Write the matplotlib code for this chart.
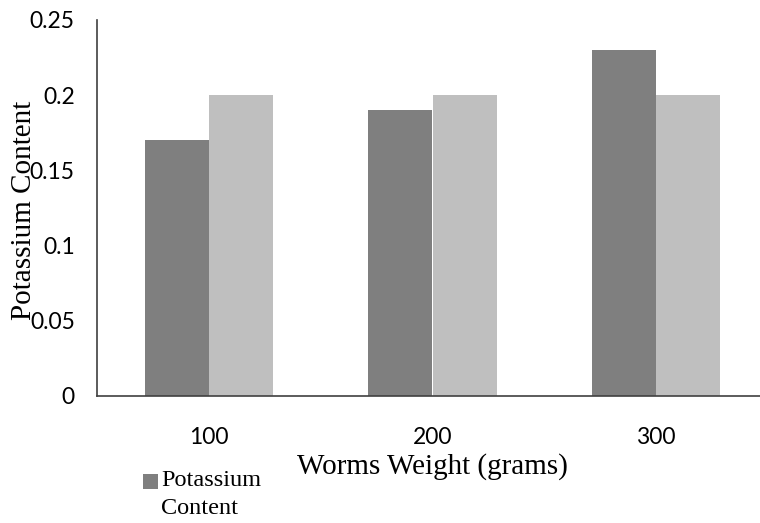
import matplotlib.pyplot as plt
import numpy as np
from matplotlib.legend_handler import HandlerPatch
from matplotlib.patches import Rectangle

## data
weights = ["100", "200", "300"]
potassium = [0.17, 0.19, 0.23]
reference = [0.20, 0.20, 0.20]

dark = "#7f7f7f"
light = "#bfbfbf"
serif = ["Liberation Serif", "DejaVu Serif"]
sans = ["Lato", "DejaVu Sans"]

fig = plt.figure(figsize=(7.6, 5.23), dpi=100)
ax = fig.add_axes([97 / 760, 1 - 396 / 523, (768 - 97) / 760, (396 - 20) / 523])

x = np.arange(len(weights))
w = 0.287
bars = ax.bar(x - w / 2, potassium, w, color=dark)
ax.bar(x + w / 2, reference, w, color=light)

ax.set_xlim(-0.5, 2.5)
ax.set_ylim(0, 0.25)
ax.set_yticks([0, 0.05, 0.1, 0.15, 0.2, 0.25])
ax.set_yticklabels(["0", "0.05", "0.1", "0.15", "0.2", "0.25"], family=sans, fontsize=16.5)
ax.set_xticks(x)
ax.set_xticklabels(weights, family=sans, fontsize=16.5)
ax.tick_params(length=0)
ax.tick_params(axis="y", pad=16)
ax.tick_params(axis="x", pad=22)

for s in ["top", "right"]:
    ax.spines[s].set_visible(False)
for s in ["left", "bottom"]:
    ax.spines[s].set_color("#404040")
    ax.spines[s].set_linewidth(1.2)

ax.set_xlabel("Worms Weight (grams)", family=serif, fontsize=21, labelpad=4)
fig.text(24 / 760, 1 - 210 / 523, "Potassium Content", family=serif, fontsize=21,
         rotation=90, ha="center", va="center")


# square marker sitting on the baseline of the first label line
def top_square(legend, orig_handle, xdescent, ydescent, width, height, fontsize):
    s = 0.6 * fontsize
    return Rectangle((width - s, 10.0), s, s)


leg = fig.legend(handles=[bars.patches[0]], labels=["Potassium\nContent"],
                 loc="upper left", bbox_to_anchor=(143 / 760, 1 - 470 / 523),
                 frameon=False, prop={"family": serif, "size": 17.5}, handlelength=0.6,
                 handleheight=0.7, handletextpad=0.15, borderaxespad=0, borderpad=0,
                 handler_map={Rectangle: HandlerPatch(patch_func=top_square)})
leg.get_texts()[0].set_linespacing(1.45)

fig.savefig("out.png", dpi=100)
